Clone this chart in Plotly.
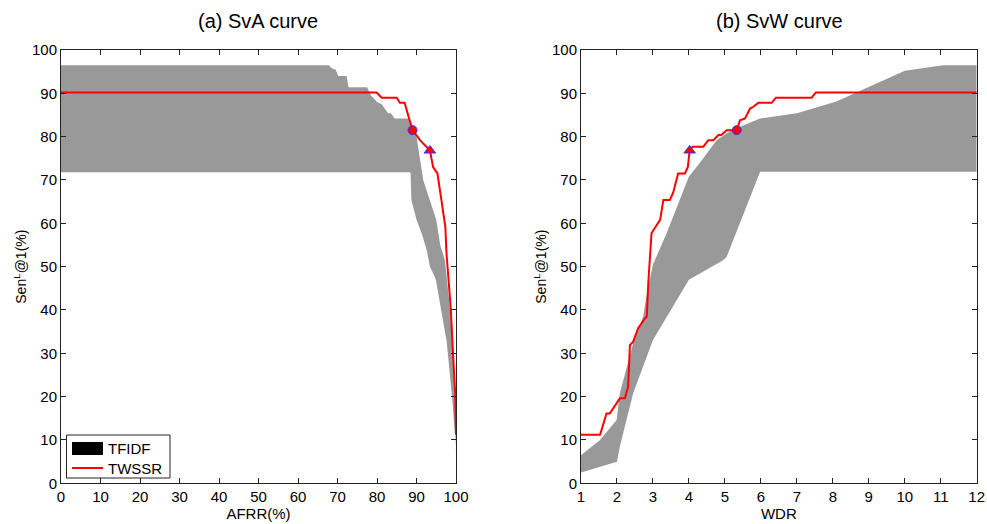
import plotly.graph_objects as go

# ---------------- (a) SvA curve ----------------
# TFIDF band: upper and lower edges over AFRR(%)
sva_upper_x = [0, 67.8, 68.5, 69.5, 70.2, 72.3, 72.8, 74.5, 75.2, 77.5, 78.5, 80.0, 81.2, 81.8, 82.8, 83.5, 84.5, 88.2,
               90.0, 91.7, 93.4, 95.0, 96.0, 97.2, 98.5, 99.3, 99.7, 100]
sva_upper_y = [96.5, 96.5, 95.8, 95.5, 94.0, 94.0, 91.4, 91.4, 91.4, 91.4, 89.5, 88.0, 87.5, 86.8, 85.4, 85.4, 84.2, 84.2,
               80.0, 70.0, 65.4, 60.8, 55.0, 51.5, 40.0, 30.0, 20.0, 7.0]
sva_lower_x = [0, 88.2, 88.5, 88.7, 90.0, 91.3, 92.6, 93.4, 94.2, 94.9, 96.3, 97.2, 97.6, 98.0, 99.0, 100]
sva_lower_y = [71.8, 71.8, 71.6, 65.4, 60.8, 57.7, 53.8, 50.0, 48.5, 47.0, 40.0, 35.0, 33.0, 30.0, 20.0, 8.0]

# TWSSR curve
sva_x = [0, 79.9, 81.2, 85.0, 85.8, 87.0, 88.0, 89.0, 90.9, 92.2, 93.4, 94.2, 95.3, 96.3, 97.3, 97.6, 98.0, 98.7,
         99.2, 99.8, 100]
sva_y = [90.2, 90.2, 89.0, 89.0, 87.8, 87.8, 84.6, 81.5, 79.2, 78.0, 76.8, 73.0, 71.5, 65.4, 59.2, 53.0, 47.7, 40.0,
         30.8, 20.8, 11.2]
sva_circle = (89.0, 81.5)
sva_triangle = (93.4, 76.8)

# ---------------- (b) SvW curve ----------------
svw_upper_x = [1, 1.53, 1.99, 2.08, 2.45, 2.73, 2.83, 3.0, 3.38, 3.75, 4.0, 4.3, 4.77, 5.05, 5.42, 5.98, 7.0, 8.1,
               8.94, 10.0, 11.07, 12]
svw_upper_y = [6.5, 10.0, 14.6, 20.8, 32.3, 38.5, 43.8, 50.5, 57.7, 65.4, 70.8, 73.9, 79.2, 80.8, 82.3, 84.2,
               85.4, 88.1, 91.2, 95.2, 96.5, 96.5]
svw_lower_x = [1, 2.0, 2.08, 2.45, 3.0, 4.0, 4.95, 5.05, 5.98, 12]
svw_lower_y = [2.5, 5.0, 8.5, 20.8, 33.1, 47.0, 51.5, 52.3, 71.9, 71.9]

svw_x = [1, 1.53, 1.71, 1.8, 2.08, 2.22, 2.31, 2.36, 2.45, 2.59, 2.78, 2.83, 2.87, 2.92, 2.96, 3.02, 3.2, 3.29, 3.47,
         3.56, 3.7, 3.89, 3.97, 4.02, 4.1, 4.4, 4.54, 4.68, 4.82, 4.9, 5.05, 5.33, 5.42, 5.56, 5.7, 5.79, 5.93, 6.3,
         6.42, 7.41, 7.53, 12]
svw_y = [11.2, 11.2, 16.1, 16.1, 19.6, 19.6, 22.3, 31.9, 32.7, 35.8, 38.1, 38.5, 46.2, 51.5, 57.7, 58.5, 60.8, 65.4,
         65.4, 67.0, 71.5, 71.5, 73.0, 76.8, 77.7, 77.7, 79.2, 79.2, 80.4, 80.4, 81.5, 81.5, 83.8, 84.2, 86.5, 86.9,
         87.8, 87.8, 89.0, 89.0, 90.2, 90.2]
svw_triangle = (4.02, 76.8)
svw_circle = (5.33, 81.5)

y_ticks = list(range(0, 101, 10))
sva_ticks = list(range(0, 101, 10))
svw_ticks = list(range(1, 13))
legend_labels = ["TFIDF", "TWSSR"]

GREY = "#999999"
RED = "#ff0000"
BLUE = "#3333ff"
AXIS = "#222222"
FONT = "Liberation Sans, Arial, sans-serif"
W, H = 987, 524

fig = go.Figure()


def band(xu, yu, xl, yl, xa, ya):
    fig.add_trace(go.Scatter(
        x=list(xu) + list(xl)[::-1], y=list(yu) + list(yl)[::-1],
        fill="toself", fillcolor=GREY, mode="lines", line=dict(width=0, color=GREY),
        hoverinfo="skip", showlegend=False, xaxis=xa, yaxis=ya))


def curve(x, y, xa, ya):
    fig.add_trace(go.Scatter(x=x, y=y, mode="lines", line=dict(color=RED, width=2),
                             showlegend=False, xaxis=xa, yaxis=ya))


def markers(circle, tri, xa, ya):
    fig.add_trace(go.Scatter(x=[circle[0]], y=[circle[1]], mode="markers",
                             marker=dict(symbol="circle", size=9, color=RED, line=dict(color=BLUE, width=1)),
                             showlegend=False, xaxis=xa, yaxis=ya))
    fig.add_trace(go.Scatter(x=[tri[0]], y=[tri[1]], mode="markers",
                             marker=dict(symbol="triangle-up", size=10, color=RED, line=dict(color=BLUE, width=1)),
                             showlegend=False, xaxis=xa, yaxis=ya))


band(sva_upper_x, sva_upper_y, sva_lower_x, sva_lower_y, "x", "y")
curve(sva_x, sva_y, "x", "y")
markers(sva_circle, sva_triangle, "x", "y")

band(svw_upper_x, svw_upper_y, svw_lower_x, svw_lower_y, "x2", "y2")
curve(svw_x, svw_y, "x2", "y2")
markers(svw_circle, svw_triangle, "x2", "y2")


def px(x):
    return x / W


def py(y):
    return 1 - y / H


# legend box drawn in the lower-left of panel (a)
shapes = [
    dict(type="rect", xref="paper", yref="paper", x0=px(66.5), x1=px(170), y0=py(478), y1=py(435),
         fillcolor="white", line=dict(color=AXIS, width=1), layer="above"),
    dict(type="rect", xref="paper", yref="paper", x0=px(72), x1=px(103), y0=py(455), y1=py(442),
         fillcolor="black", line=dict(width=0), layer="above"),
    dict(type="line", xref="paper", yref="paper", x0=px(72), x1=px(103), y0=py(468), y1=py(468),
         line=dict(color=RED, width=2), layer="above"),
]

axis_common = dict(showgrid=False, zeroline=False, showline=True, linecolor=AXIS, linewidth=1,
                   mirror="ticks", ticks="inside", ticklen=5, tickcolor=AXIS, automargin=False,
                   tickfont=dict(family=FONT, size=15, color="black"))

annotations = [
    dict(text="(a) SvA curve", x=0.2619, y=py(21), xref="paper", yref="paper",
         xanchor="center", yanchor="middle", showarrow=False, font=dict(size=20, family=FONT)),
    dict(text="(b) SvW curve", x=0.7893, y=py(21), xref="paper", yref="paper",
         xanchor="center", yanchor="middle", showarrow=False, font=dict(size=20, family=FONT)),
    dict(text=legend_labels[0], x=px(106), y=py(448.5), xref="paper", yref="paper",
         xanchor="left", yanchor="middle", showarrow=False, font=dict(size=15, family=FONT)),
    dict(text=legend_labels[1], x=px(106), y=py(468), xref="paper", yref="paper",
         xanchor="left", yanchor="middle", showarrow=False, font=dict(size=15, family=FONT)),
]

fig.update_layout(
    width=W, height=H,
    margin=dict(l=0, r=0, t=0, b=0),
    paper_bgcolor="white", plot_bgcolor="white",
    font=dict(family=FONT, color="black"),
    showlegend=False,
    xaxis=dict(domain=[px(61), px(456)], range=[0, 100], tickvals=sva_ticks,
               title=dict(text="AFRR(%)", font=dict(size=15), standoff=1), **axis_common),
    yaxis=dict(domain=[py(483.3), py(50)], range=[0, 100], tickvals=y_ticks,
               title=dict(text="Sen<sup>L</sup>@1(%)", font=dict(size=14), standoff=2), **axis_common),
    xaxis2=dict(domain=[px(581), px(976.7)], range=[1, 12], tickvals=svw_ticks, anchor="y2",
                title=dict(text="WDR", font=dict(size=15), standoff=1), **axis_common),
    yaxis2=dict(domain=[py(483.3), py(50)], range=[0, 100], tickvals=y_ticks, anchor="x2",
                title=dict(text="Sen<sup>L</sup>@1(%)", font=dict(size=14), standoff=2), **axis_common),
    shapes=shapes,
    annotations=annotations,
)

fig.write_html("out.html")
